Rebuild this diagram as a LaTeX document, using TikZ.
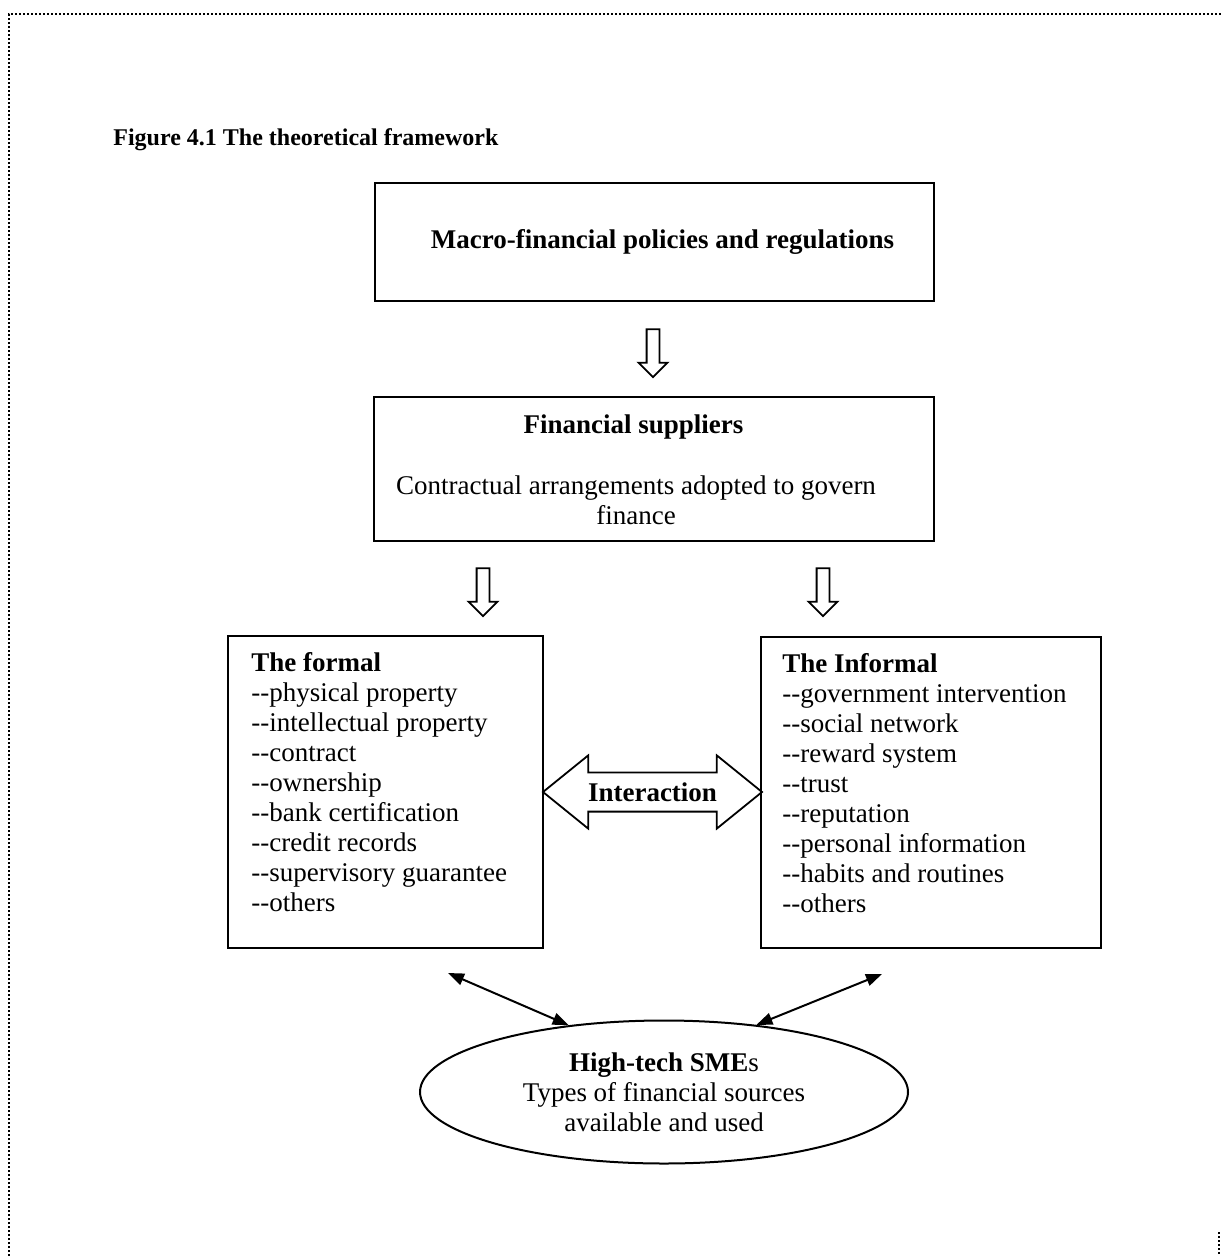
\documentclass[tikz,border=0pt]{standalone}
\usepackage{fontspec}
\setmainfont{Liberation Serif}
\usetikzlibrary{shapes,arrows,arrows.meta}
\tikzset{%
	block/.style     = {draw, line width=1.1pt, rectangle, inner sep=0pt},
	downarrow/.style = {draw, line width=0.9pt, single arrow, shape border rotate=270,
		minimum height=24pt, minimum width=13.5pt, single arrow head extend=4pt, inner sep=2.75pt},
	interact/.style  = {draw, line width=0.9pt, double arrow, minimum height=109.5pt,
		minimum width=35.5pt, double arrow head extend=8.5pt, double arrow tip angle=78,
		inner xsep=0pt, inner ysep=4.6pt, font=\fontsize{13.5}{15}\selectfont\bfseries},
	txt/.style       = {inner sep=0pt, font=\fontsize{13.5}{15}\selectfont}, % Text
	conn/.style      = {line width=1pt, {Triangle[length=8pt,width=6pt]}-{Triangle[length=8pt,width=6pt]}}
}

\begin{document}
\begin{tikzpicture}[x=0.5pt,y=-0.5pt]
			\useasboundingbox (0,0) rectangle (1221,1256);
			\draw[densely dotted, line width=1pt] (9,1256) -- (9,14) -- (1221,14);
			\draw[densely dotted, line width=1pt] (1219,1232) -- (1219,1256);

			\node[txt, anchor=base west, font=\fontsize{12}{14}\selectfont\bfseries] (title) at (113,146) {Figure 4.1 The theoretical framework};

			\node[block, minimum width=279.5pt, minimum height=59pt] (macro) at (654.5,242) {};
			\node[txt, anchor=base] (macrotxt) at (662.5,249) {\bfseries Macro-financial policies and regulations};

			\node[downarrow] (down) at (653,350) {};

			\node[block, minimum width=280pt, minimum height=72pt] (supp) at (654,469) {};
			\node[txt, anchor=base] (supptxt) at (633.5,433) {\bfseries Financial suppliers};
			\node[txt, anchor=north, align=center] (contract) at (636,475) {Contractual arrangements adopted to govern\\finance};

			\node[downarrow] (downl) at (483,589) {};
			\node[downarrow] (downr) at (823,589) {};

			\node[block, minimum width=157.5pt, minimum height=156pt] (formal) at (385.5,792) {};
			\node[txt, anchor=north west, align=left] (formaltxt) at (251,652) {\textbf{The formal}\\-{}-physical property\\-{}-intellectual property\\-{}-contract\\-{}-ownership\\-{}-bank certification\\-{}-credit records\\-{}-supervisory guarantee\\-{}-others};

			\node[block, minimum width=170pt, minimum height=155.5pt] (informal) at (931,792.5) {};
			\node[txt, anchor=north west, align=left] (informaltxt) at (782,653) {\textbf{The Informal}\\-{}-government intervention\\-{}-social network\\-{}-reward system\\-{}-trust\\-{}-reputation\\-{}-personal information\\-{}-habits and routines\\-{}-others};

			\node[interact] (inter) at (652.5,792) {Interaction};

			\node[txt, draw, ellipse, line width=1pt, minimum width=244pt, minimum height=71.5pt, align=center] (smes) at (664,1092) {\textbf{High-tech SME}s\\Types of financial sources\\available and used};

			\coordinate (fl) at (448,973);
			\coordinate (il) at (882,974);
			\draw[conn] (fl) -- (smes.145);
			\draw[conn] (il) -- (smes.36);
\end{tikzpicture}
\end{document}
